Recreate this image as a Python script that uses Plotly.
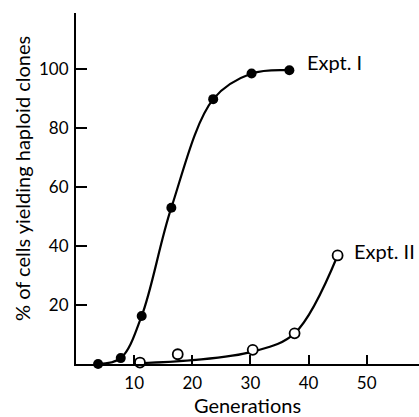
import plotly.graph_objects as go

# Expt. I (filled circles)
expt1_gen = [3.8, 7.7, 11.3, 16.4, 23.6, 30.2, 36.7]
expt1_pct = [0.0, 2.0, 16.3, 53.0, 89.8, 98.5, 99.6]

# Expt. II (open circles)
expt2_gen = [11.0, 17.5, 30.4, 37.6, 45.0]
expt2_pct = [0.5, 3.3, 4.8, 10.4, 36.8]

# fitted curve for Expt. II
expt2_curve_gen = [11.0, 20.0, 30.4, 37.6, 45.0]
expt2_curve_pct = [0.3, 1.3, 4.2, 10.4, 36.8]

x_ticks = [10, 20, 30, 40, 50]
y_ticks = [20, 40, 60, 80, 100]

FONT = "Lato"

fig = go.Figure()
fig.add_trace(go.Scatter(x=expt1_gen, y=expt1_pct, mode="lines",
                         line=dict(color="black", width=2.2, shape="spline", smoothing=1.0),
                         hoverinfo="skip", showlegend=False))
fig.add_trace(go.Scatter(x=expt2_curve_gen, y=expt2_curve_pct, mode="lines",
                         line=dict(color="black", width=2.2, shape="spline", smoothing=1.0),
                         hoverinfo="skip", showlegend=False))
fig.add_trace(go.Scatter(x=expt1_gen, y=expt1_pct, mode="markers",
                         marker=dict(color="black", size=10, line=dict(color="black", width=0)),
                         cliponaxis=False, showlegend=False, name="Expt. I"))
fig.add_trace(go.Scatter(x=expt2_gen, y=expt2_pct, mode="markers",
                         marker=dict(color="white", size=10, line=dict(color="black", width=1.8)),
                         cliponaxis=False, showlegend=False, name="Expt. II"))

fig.add_annotation(x=expt1_gen[-1], y=expt1_pct[-1], text="Expt. I", showarrow=False,
                   xanchor="left", yanchor="middle", xshift=16, yshift=8,
                   font=dict(family=FONT, size=20, color="black"))
fig.add_annotation(x=expt2_gen[-1], y=expt2_pct[-1], text="Expt. II", showarrow=False,
                   xanchor="left", yanchor="middle", xshift=14, yshift=4,
                   font=dict(family=FONT, size=20, color="black"))
fig.add_annotation(xref="paper", yref="paper", x=0, y=0.527, xshift=-54,
                   text="% of cells yielding haploid clones", showarrow=False,
                   textangle=-90, xanchor="center", yanchor="middle",
                   font=dict(family=FONT, size=20, color="black"))

fig.update_layout(
    width=419, height=417,
    margin=dict(l=76, r=0, t=13, b=53),
    plot_bgcolor="white", paper_bgcolor="white",
    font=dict(family=FONT, size=17, color="black"),
)
fig.update_xaxes(range=[0, 59], tickvals=x_ticks, ticks="inside", ticklen=9, tickwidth=1.5,
                 tickcolor="black", showline=True, linecolor="black", linewidth=2,
                 showgrid=False, zeroline=False, ticklabelstandoff=3,
                 title=dict(text="Generations", standoff=5, font=dict(size=20)))
fig.update_yaxes(range=[0, 119], tickvals=y_ticks, ticks="inside", ticklen=11, tickwidth=1.5,
                 tickcolor="black", showline=True, linecolor="black", linewidth=2,
                 showgrid=False, zeroline=False, ticklabelstandoff=2)

fig.write_html("out.html")
